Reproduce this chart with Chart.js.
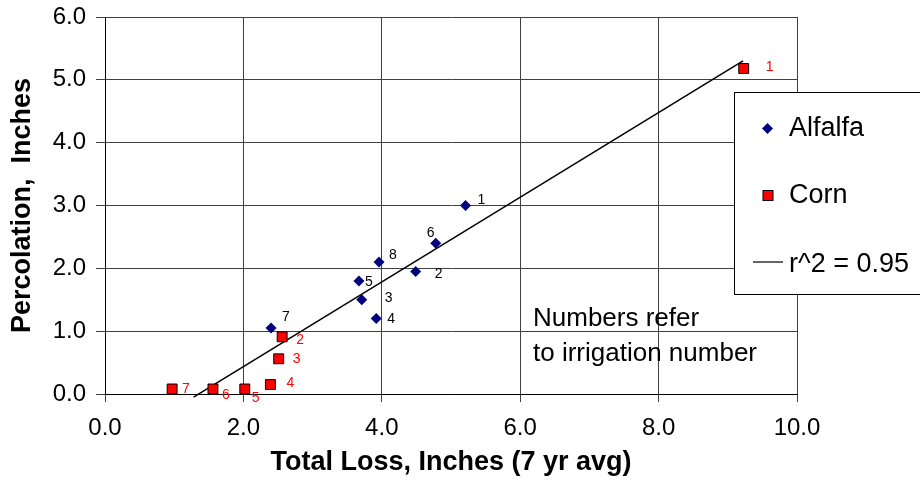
<!DOCTYPE html>
<html>
<head>
<meta charset="utf-8">
<script src="https://cdn.jsdelivr.net/npm/chart.js@4/dist/chart.umd.min.js"></script>
<style>
  body { margin: 0; background: #fff; }
  #wrap { width: 920px; height: 480px; }
</style>
</head>
<body>
<div id="wrap"><canvas id="lossChart"></canvas></div>
<script>
// values
var alfalfaX = [5.21, 4.49, 3.71, 3.92, 3.67, 4.78, 2.40, 3.96];
var alfalfaY = [3.00, 1.95, 1.50, 1.20, 1.80, 2.40, 1.05, 2.10];
var alfalfaNums = ['1', '2', '3', '4', '5', '6', '7', '8'];

var cornX = [9.23, 2.56, 2.51, 2.39, 2.02, 1.56, 0.97];
var cornY = [5.18, 0.91, 0.56, 0.15, 0.08, 0.08, 0.08];
var cornNums = ['1', '2', '3', '4', '5', '6', '7'];

var trendX = [1.28, 9.22];
var trendY = [-0.05, 5.30];

var xTicks = [0, 2, 4, 6, 8, 10];
var yTicks = [0, 1, 2, 3, 4, 5, 6];

function toPoints(xs, ys) {
	var pts = [];
	for (var i = 0; i < xs.length; i++) {
		pts.push({ x: xs[i], y: ys[i] });
	}
	return pts;
}

var FONT = "'Liberation Sans', Arial, sans-serif";

// where each irrigation number sits relative to its marker (px)
var labelOffsets = [
	[[12, -5], [19, 3], [23, -2], [11, 1], [6, 1], [-9, -10], [11, -11], [10, -7]],
	[[22, -1], [14, 3], [14, 0], [16, -1], [7, 9], [9, 6], [10, 0]]
];
var labelColors = ['#000000', '#ff0000'];

var pointLabels = {
	id: 'pointLabels',
	afterDatasetsDraw: function(chart) {
		var ctx = chart.ctx;
		var nums = [alfalfaNums, cornNums];
		ctx.save();
		ctx.font = '14px ' + FONT;
		ctx.textAlign = 'left';
		ctx.textBaseline = 'middle';
		for (var d = 0; d < 2; d++) {
			var meta = chart.getDatasetMeta(d);
			ctx.fillStyle = labelColors[d];
			for (var i = 0; i < meta.data.length; i++) {
				var p = meta.data[i];
				var off = labelOffsets[d][i];
				ctx.fillText(nums[d][i], p.x + off[0], p.y + off[1]);
			}
		}
		ctx.restore();
	}
};

// boxed legend on the right + the note under the line
var boxLegend = {
	id: 'boxLegend',
	afterDraw: function(chart) {
		var ctx = chart.ctx;
		var ds = chart.data.datasets;
		ctx.save();

		ctx.fillStyle = '#fff';
		ctx.fillRect(734.5, 92.5, 200, 202);
		ctx.strokeStyle = '#000';
		ctx.lineWidth = 1;
		ctx.strokeRect(734.5, 92.5, 200, 202);

		// diamond
		ctx.fillStyle = ds[0].backgroundColor;
		ctx.beginPath();
		ctx.moveTo(767.5, 123);
		ctx.lineTo(773, 128.5);
		ctx.lineTo(767.5, 134);
		ctx.lineTo(762, 128.5);
		ctx.closePath();
		ctx.fill();

		// square
		ctx.fillStyle = ds[1].backgroundColor;
		ctx.fillRect(763, 190.5, 10, 10);
		ctx.strokeStyle = '#000';
		ctx.strokeRect(763, 190.5, 10, 10);

		// line
		ctx.beginPath();
		ctx.moveTo(753, 262);
		ctx.lineTo(783, 262);
		ctx.lineWidth = 1.2;
		ctx.stroke();

		ctx.fillStyle = '#000';
		ctx.font = '27px ' + FONT;
		ctx.textBaseline = 'alphabetic';
		ctx.textAlign = 'left';
		ctx.fillText(ds[0].label, 789, 136);
		ctx.fillText(ds[1].label, 789, 203);
		ctx.fillText(ds[2].label, 789, 272);

		ctx.font = '26px ' + FONT;
		ctx.fillText('Numbers refer', 533, 326);
		ctx.fillText('to irrigation number', 533, 361);
		ctx.restore();
	}
};

var ctx = document.getElementById('lossChart');

var lossChart = new Chart(ctx, {
	type: 'scatter',
	data: {
		datasets: [{
			label: 'Alfalfa',
			data: toPoints(alfalfaX, alfalfaY),
			pointStyle: 'rectRot',
			pointRadius: 5.5,
			backgroundColor: '#000080',
			borderColor: '#000080',
			borderWidth: 0
		}, {
			label: 'Corn',
			data: toPoints(cornX, cornY),
			pointStyle: 'rect',
			pointRadius: 7,
			backgroundColor: '#ff0000',
			borderColor: '#000000',
			borderWidth: 1
		}, {
			label: 'r^2 = 0.95',
			data: toPoints(trendX, trendY),
			showLine: true,
			pointRadius: 0,
			borderColor: '#000000',
			borderWidth: 1.5,
			clip: false
		}]
	},
	options: {
		responsive: true,
		maintainAspectRatio: false,
		animation: false,
		layout: { padding: { top: 17, right: 123, bottom: 0, left: 0 } },
		plugins: {
			legend: { display: false },
			tooltip: { enabled: false }
		},
		scales: {
			x: {
				type: 'linear',
				min: 0,
				max: 10,
				afterBuildTicks: function(axis) {
					axis.ticks = xTicks.map(function(v) { return { value: v }; });
				},
				afterFit: function(axis) {
					axis.height = 86;
					axis.paddingLeft = 0;
					axis.paddingRight = 0;
				},
				grid: { color: '#404040', lineWidth: 1, tickLength: 8 },
				border: { color: '#000', width: 1 },
				ticks: {
					color: '#000',
					padding: 12,
					font: { family: FONT, size: 24 },
					callback: function(v) { return v.toFixed(1); }
				},
				title: {
					display: true,
					text: 'Total Loss, Inches (7 yr avg)',
					color: '#000',
					font: { family: FONT, size: 27, weight: 'bold' },
					padding: { top: 0, bottom: 1 }
				}
			},
			y: {
				type: 'linear',
				min: 0,
				max: 6,
				afterBuildTicks: function(axis) {
					axis.ticks = yTicks.map(function(v) { return { value: v }; });
				},
				afterFit: function(axis) {
					axis.width = 105;
					axis.paddingTop = 0;
					axis.paddingBottom = 0;
				},
				grid: { color: '#404040', lineWidth: 1, tickLength: 9 },
				border: { color: '#000', width: 1 },
				ticks: {
					color: '#000',
					padding: 10,
					font: { family: FONT, size: 24 },
					callback: function(v) { return v.toFixed(1); }
				},
				title: {
					display: true,
					text: 'Percolation,  Inches',
					color: '#000',
					font: { family: FONT, size: 27, weight: 'bold' },
					padding: { top: 6, bottom: 0 }
				}
			}
		}
	},
	plugins: [pointLabels, boxLegend]
});
</script>
</body>
</html>
